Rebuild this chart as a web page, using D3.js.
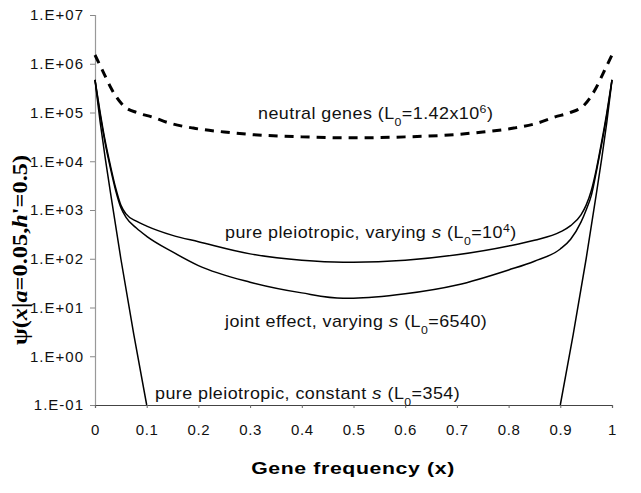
<!DOCTYPE html>
<html><head><meta charset="utf-8">
<script src="https://cdn.jsdelivr.net/npm/d3@7"></script>
<style>body{margin:0;background:#fff}svg{display:block}</style>
</head><body>
<svg id="c" width="641" height="493"></svg>
<script>
// ---- data (log10 of psi) ----
const xTicks = [0,0.1,0.2,0.3,0.4,0.5,0.6,0.7,0.8,0.9,1];
const xTickLabels = ["0","0.1","0.2","0.3","0.4","0.5","0.6","0.7","0.8","0.9","1"];
const yTicks = [1e-1,1e0,1e1,1e2,1e3,1e4,1e5,1e6,1e7];
const yTickLabels = ["1.E-01","1.E+00","1.E+01","1.E+02","1.E+03","1.E+04","1.E+05","1.E+06","1.E+07"];

const neutralX   = [0,0.016,0.032,0.054,0.083,0.11,0.145,0.19,0.25,0.3,0.4,0.5,0.6,0.7,0.75,0.81,0.855,0.89,0.917,0.946,0.968,0.984,1];
const neutralLog = [6.18,5.83,5.48,5.15,4.99,4.91,4.78,4.68,4.6,4.55,4.5,4.48,4.5,4.55,4.6,4.68,4.78,4.91,4.99,5.15,5.48,5.83,6.18];

const curveX      = [0,0.01,0.02,0.03,0.04,0.05,0.06,0.08,0.1,0.15,0.2,0.3,0.4,0.48,0.5,0.6,0.7,0.8,0.85,0.9,0.92,0.94,0.95,0.96,0.97,0.98,0.99,1];
const pleioVarLog = [5.67,5.0,4.4,3.9,3.45,3.1,2.92,2.77,2.67,2.48,2.35,2.1,1.97,1.93,1.93,1.97,2.08,2.26,2.38,2.55,2.68,2.9,3.1,3.4,3.85,4.4,5.0,5.67];
const jointLog    = [5.67,4.95,4.35,3.85,3.4,3.05,2.85,2.63,2.46,2.14,1.86,1.52,1.3,1.19,1.19,1.28,1.46,1.77,1.95,2.2,2.4,2.75,3.0,3.3,3.8,4.35,4.95,5.67];

const constX   = [0,0.01,0.02,0.03,0.05,0.075,0.1, 0.9,0.925,0.95,0.97,0.98,0.99,1];
const constLog = [5.67,4.8,4.05,3.35,2.0,0.45,-1, -1,0.45,2.0,3.35,4.05,4.8,5.67];

// ---- layout ----
const svg = d3.select("#c");
const x = d3.scaleLinear().domain([0,1]).range([95,612]);
const y = d3.scaleLog().domain([1e-1,1e7]).range([405,15]);
const sans = "'Liberation Sans', Arial, sans-serif";

// y axis
const yAxis = svg.append("g").attr("transform","translate(95,0)")
  .call(d3.axisLeft(y).tickValues(yTicks).tickSize(5).tickPadding(6)
        .tickFormat((d,i)=>yTickLabels[i]));
yAxis.select(".domain").attr("stroke","#999").attr("stroke-width",1.2);
yAxis.selectAll(".tick line").attr("stroke","#888");
yAxis.selectAll("text").attr("font-family",sans).attr("font-size",15).attr("letter-spacing",1).attr("fill","#111");

// x axis
const xAxis = svg.append("g").attr("transform","translate(0,405)")
  .call(d3.axisBottom(x).tickValues(xTicks).tickSize(3).tickPadding(16)
        .tickFormat((d,i)=>xTickLabels[i]));
xAxis.select(".domain").attr("stroke","#444").attr("stroke-width",1.2);
xAxis.selectAll(".tick line").attr("stroke","#666");
xAxis.selectAll("text").attr("font-family",sans).attr("font-size",15).attr("letter-spacing",0.6).attr("fill","#111");

// axis titles
svg.append("text").attr("transform","translate(353,474) scale(1.25,1)").attr("text-anchor","middle")
  .attr("font-family",sans).attr("font-weight","bold").attr("font-size",17).attr("letter-spacing",0.5)
  .text("Gene frequency (x)");

const yl = svg.append("text").attr("transform","translate(27,250) rotate(-90) scale(1.22,1)").attr("text-anchor","middle")
  .attr("font-family","'Liberation Serif', 'Times New Roman', serif").attr("font-weight","bold").attr("font-size",20);
yl.append("tspan").text("ψ(");
yl.append("tspan").attr("font-style","italic").text("x");
yl.append("tspan").text("|");
yl.append("tspan").attr("font-style","italic").text("a");
yl.append("tspan").text("=0.05,");
yl.append("tspan").attr("font-style","italic").text("h");
yl.append("tspan").text("'=0.5)");

// lines
const line = d3.line().curve(d3.curveMonotoneX).x(d=>x(d[0])).y(d=>y(Math.pow(10,d[1])));
const lineStraight = d3.line().x(d=>x(d[0])).y(d=>y(Math.pow(10,d[1])));
function series(xs, ls){ return xs.map((v,i)=>[v, ls[i]]); }

svg.append("path").datum(series(neutralX,neutralLog)).attr("d",line)
  .attr("fill","none").attr("stroke","#000").attr("stroke-width",3).attr("stroke-dasharray","9,7");
svg.append("path").datum(series(curveX,pleioVarLog)).attr("d",line)
  .attr("fill","none").attr("stroke","#000").attr("stroke-width",1.5);
svg.append("path").datum(series(curveX,jointLog)).attr("d",line)
  .attr("fill","none").attr("stroke","#000").attr("stroke-width",1.5);
const c = series(constX,constLog);
svg.append("path").datum(c.slice(0,7)).attr("d",lineStraight)
  .attr("fill","none").attr("stroke","#000").attr("stroke-width",1.5);
svg.append("path").datum(c.slice(7)).attr("d",lineStraight)
  .attr("fill","none").attr("stroke","#000").attr("stroke-width",1.5);

// annotations
function label(px, py, parts){
  const t = svg.append("text").attr("transform",`translate(${px},${py}) scale(1.12,1)`)
    .attr("font-family",sans).attr("font-size",16).attr("letter-spacing",0.4).attr("fill","#111");
  parts.forEach(p=>{
    const s = t.append("tspan").text(p.t);
    if(p.i) s.attr("font-style","italic").attr("font-size",17);
    if(p.sub) s.attr("baseline-shift","sub").attr("font-size",11);
    if(p.sup) s.attr("baseline-shift","super").attr("font-size",11);
  });
}
label(258,119,[{t:"neutral genes (L"},{t:"0",sub:1},{t:"=1.42x10"},{t:"6",sup:1},{t:")"}]);
label(225,238,[{t:"pure pleiotropic, varying "},{t:"s",i:1},{t:"  (L"},{t:"0",sub:1},{t:"=10"},{t:"4",sup:1},{t:")"}]);
label(225,327,[{t:"joint effect, varying "},{t:"s",i:1},{t:"  (L"},{t:"0",sub:1},{t:"=6540)"}]);
label(155,399,[{t:"pure pleiotropic, constant "},{t:"s",i:1},{t:" (L"},{t:"0",sub:1},{t:"=354)"}]);
</script>
</body></html>
